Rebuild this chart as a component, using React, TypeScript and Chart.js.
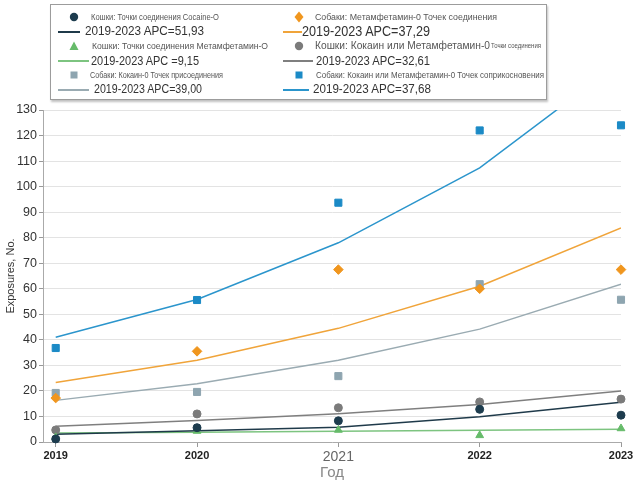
import React, { useEffect, useLayoutEffect, useRef } from 'react';
import { Chart, registerables } from 'chart.js';
Chart.register(...registerables);

const years = [2019, 2020, 2021, 2022, 2023];
const yTickValues = [0, 10, 20, 30, 40, 50, 60, 70, 80, 90, 100, 110, 120, 130];

const catsCocainePts = [1.2, 5.6, 8.3, 12.8, 10.5];
const catsCocaineFit = [3.0, 4.4, 5.8, 9.9, 15.6];
const catsMethPts = [1.8, 4.3, 4.7, 2.6, 5.3];
const catsMethFit = [3.5, 3.8, 4.2, 4.6, 5.0];
const catsEitherPts = [4.7, 11.0, 13.4, 15.7, 16.8];
const catsEitherFit = [6.2, 8.4, 11.1, 14.7, 20.0];
const dogsMethPts = [17.2, 35.5, 67.5, 60.0, 67.5];
const dogsMethFit = [23.3, 32.0, 44.5, 61.0, 83.8];
const dogsCocainePts = [19.2, 19.6, 25.8, 61.8, 55.7];
const dogsCocaineFit = [16.3, 22.8, 32.0, 44.2, 61.8];
const dogsEitherPts = [36.8, 55.6, 93.7, 122.0, 124.0];
const dogsEitherFit = [41.0, 55.8, 78.0, 107.3, 149.0];

const C = {
  navy: '#1d3c4e', navyLine: '#1f3a4a',
  green: '#66bb6a', greenLine: '#7dc480',
  gray: '#7b7b7b', grayLine: '#7f7f7f',
  orange: '#f0961e', orangeLine: '#f0a43a',
  slate: '#8ea5b0', slateLine: '#9aabb2',
  blue: '#1b8ac6', blueLine: '#2b95cc',
};

const SANS = "'Liberation Sans', Arial, sans-serif";

const pts = (vals: number[]) => years.map((x, i) => ({ x, y: vals[i] }));

function pointDs(label: string, vals: number[], color: string, style: string, r: number) {
  return {
    label, data: pts(vals), showLine: false, pointStyle: style, pointRadius: r,
    pointBackgroundColor: color, pointBorderColor: color, pointBorderWidth: 1, clip: false,
  };
}
function lineDs(label: string, vals: number[], color: string) {
  return {
    label, data: pts(vals), showLine: true, pointRadius: 0, borderColor: color,
    borderWidth: 1.5, tension: 0, fill: false,
  };
}

function Marker({ kind, color }: { kind: string; color: string }) {
  let shape: any = null;
  if (kind === 'circle') shape = <circle cx="6" cy="6" r="4.2" fill={color} />;
  if (kind === 'tri') shape = <polygon points="6,1.5 10.5,10 1.5,10" fill={color} />;
  if (kind === 'rect') shape = <rect x="2.5" y="2.5" width="7" height="7" fill={color} />;
  if (kind === 'diamond') shape = <polygon points="6,0.5 10.5,6 6,11.5 1.5,6" fill={color} />;
  return <svg width="12" height="12" style={{ position: 'absolute', left: -6, top: -6 }}>{shape}</svg>;
}

function At({ x, y, children }: any) {
  return <div style={{ position: 'absolute', left: x, top: y, width: 0, height: 0 }}>{children}</div>;
}

function Txt({ x, y, w, size, color, children }: any) {
  const r = useRef<HTMLDivElement | null>(null);
  useLayoutEffect(() => {
    const el = r.current;
    if (!el) return;
    el.style.transform = 'none';
    const actual = el.getBoundingClientRect().width;
    if (actual > 0 && w) el.style.transform = `scaleX(${w / actual})`;
  }, [w]);
  return (
    <div ref={r} style={{ position: 'absolute', left: x, top: y - size * 0.6, fontSize: size, lineHeight: `${size * 1.2}px`,
      color, fontFamily: SANS, whiteSpace: 'nowrap', transformOrigin: 'left center', display: 'inline-block' }}>{children}</div>
  );
}

function LLine({ x1, x2, y, color }: any) {
  return <div style={{ position: 'absolute', left: x1, top: y - 1, width: x2 - x1, height: 1.5, background: color }} />;
}

function Legend() {
  const small = '#555';
  const big = '#333';
  return (
    <div style={{ position: 'absolute', left: 0, top: 0, width: 639, height: 110, pointerEvents: 'none' }}>
      <div style={{ position: 'absolute', left: 50, top: 4, width: 495, height: 94, border: '1px solid #9c9c9c',
        boxShadow: '1px 2px 2px rgba(0,0,0,0.25)', background: '#fff' }} />
      {/* column 1 */}
      <At x={74} y={17}><Marker kind="circle" color={C.navy} /></At>
      <Txt x={91} y={17} w={128} size={8.5} color={small}>Кошки: Точки соединения Cocaine-O</Txt>
      <LLine x1={58} x2={80} y={32} color={C.navyLine} />
      <Txt x={85} y={31} w={119} size={13} color={big}>2019-2023 APC=51,93</Txt>

      <At x={74} y={46}><Marker kind="tri" color={C.green} /></At>
      <Txt x={92} y={46} w={176} size={9.5} color={small}>Кошки: Точки соединения Метамфетамин-O</Txt>
      <LLine x1={58} x2={89} y={61} color={C.greenLine} />
      <Txt x={91} y={61} w={108} size={13} color={big}>2019-2023 APC =9,15</Txt>

      <At x={74} y={75}><Marker kind="rect" color={C.slate} /></At>
      <Txt x={90} y={75} w={133} size={8.5} color={small}>Собаки: Кокаин-0 Точек присоединения</Txt>
      <LLine x1={58} x2={89} y={90} color={C.slateLine} />
      <Txt x={94} y={89} w={108} size={13} color={big}>2019-2023 APC=39,00</Txt>

      {/* column 2 */}
      <At x={299} y={17}><Marker kind="diamond" color={C.orange} /></At>
      <Txt x={315} y={17} w={182} size={9.5} color={small}>Собаки: Метамфетамин-0 Точек соединения</Txt>
      <LLine x1={283} x2={302} y={32} color={C.orangeLine} />
      <Txt x={302} y={31} w={128} size={14} color={big}>2019-2023 APC=37,29</Txt>

      <At x={299} y={46}><Marker kind="circle" color={C.gray} /></At>
      <Txt x={315} y={46} w={175} size={11} color={small}>Кошки: Кокаин или Метамфетамин-0</Txt>
      <Txt x={491} y={46} w={50} size={6.5} color={small}>Точки соединения</Txt>
      <LLine x1={283} x2={313} y={61} color={C.grayLine} />
      <Txt x={316} y={61} w={114} size={13} color={big}>2019-2023 APC=32,61</Txt>

      <At x={299} y={75}><Marker kind="rect" color={C.blue} /></At>
      <Txt x={316} y={75} w={228} size={9} color={small}>Собаки: Кокаин или Метамфетамин-0 Точек соприкосновения</Txt>
      <LLine x1={283} x2={309} y={90} color={C.blueLine} />
      <Txt x={313} y={89} w={118} size={13} color={big}>2019-2023 APC=37,68</Txt>
    </div>
  );
}

export default function App() {
  const ref = useRef<HTMLCanvasElement | null>(null);
  useEffect(() => {
    if (!ref.current) return;
    Chart.defaults.font.family = SANS;
    const chart = new Chart(ref.current, {
      type: 'scatter',
      data: {
        datasets: [
          pointDs('Cats cocaine', catsCocainePts, C.navy, 'circle', 4),
          pointDs('Cats meth', catsMethPts, C.green, 'triangle', 4.5),
          pointDs('Cats either', catsEitherPts, C.gray, 'circle', 4),
          pointDs('Dogs meth', dogsMethPts, C.orange, 'rectRot', 4.8),
          pointDs('Dogs cocaine', dogsCocainePts, C.slate, 'rect', 5),
          pointDs('Dogs either', dogsEitherPts, C.blue, 'rect', 5),
          lineDs('Cats cocaine fit', catsCocaineFit, C.navyLine),
          lineDs('Cats meth fit', catsMethFit, C.greenLine),
          lineDs('Cats either fit', catsEitherFit, C.grayLine),
          lineDs('Dogs meth fit', dogsMethFit, C.orangeLine),
          lineDs('Dogs cocaine fit', dogsCocaineFit, C.slateLine),
          lineDs('Dogs either fit', dogsEitherFit, C.blueLine),
        ] as any,
      },
      options: {
        responsive: false,
        animation: false,
        layout: { padding: { top: 110, right: 18, left: 0, bottom: 0 } },
        plugins: { legend: { display: false }, tooltip: { enabled: false } },
        scales: {
          x: {
            type: 'linear', min: 2018.91, max: 2023,
            afterBuildTicks: (s: any) => { s.ticks = years.map((v) => ({ value: v })); },
            afterFit: (s: any) => { s.height = 40; },
            grid: { drawOnChartArea: false, drawTicks: true, tickLength: 5, color: '#999' },
            border: { color: '#aaa' },
            ticks: {
              padding: 2,
              callback: (v: any) => String(v),
              font: (ctx: any) => (ctx.tick && ctx.tick.value === 2021)
                ? { family: SANS, size: 14 }
                : { family: SANS, size: 11, weight: 'bold' },
              color: (ctx: any) => (ctx.tick && ctx.tick.value === 2021) ? '#666' : '#222',
            },
            title: { display: true, text: 'Год', font: { family: SANS, size: 15 }, color: '#888', padding: 0 },
          },
          y: {
            min: 0, max: 130,
            afterBuildTicks: (s: any) => { s.ticks = yTickValues.map((v) => ({ value: v })); },
            afterFit: (s: any) => { s.width = 43; },
            grid: { color: '#e3e3e3', tickLength: 4, tickColor: '#999' },
            border: { color: '#aaa' },
            ticks: { padding: 2, font: { family: SANS, size: 12.5 }, color: '#333' },
            title: { display: true, text: 'Exposures, No.', font: { family: SANS, size: 11 }, color: '#333', padding: { top: 4, bottom: 0 } },
          },
        },
      } as any,
    });
    return () => chart.destroy();
  }, []);
  return (
    <div style={{ position: 'fixed', left: 0, top: 0, width: 639, height: 482, background: '#fff' }}>
      <canvas ref={ref} width={639} height={482} style={{ position: 'absolute', left: 0, top: 0, width: 639, height: 482 }} />
      <Legend />
    </div>
  );
}
